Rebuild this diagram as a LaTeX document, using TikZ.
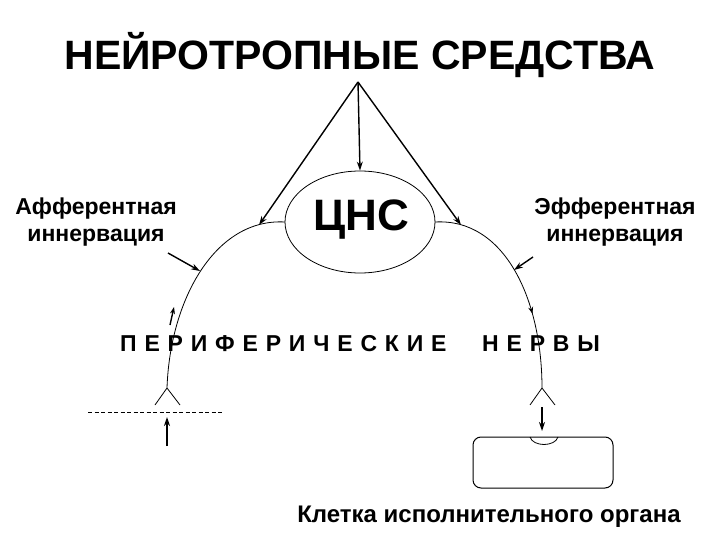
\documentclass[tikz,border=0pt]{standalone}
\usepackage{fontspec}
\setmainfont{Liberation Sans}
\usetikzlibrary{arrows.meta,shapes.geometric,decorations.markings}
\begin{document}
\begin{tikzpicture}[x=1pt,y=-1pt,
  txt/.style={inner sep=0pt},
  arr/.style={-{Stealth[length=9pt,width=6pt]}, line width=1.4pt},
  smallarr/.style={-{Stealth[length=7pt,width=5pt]}, line width=1.4pt},
  nerve/.style={line width=0.8pt},
  thinline/.style={line width=0.8pt},
  sidelabel/.style={txt, font=\fontsize{23}{26.5}\selectfont\bfseries, align=center, anchor=base},
  spaced/.style={txt, font=\fontsize{23}{26}\selectfont\bfseries\addfontfeatures{LetterSpace=34}, anchor=base west},
]
\useasboundingbox (0,0) rectangle (720,540);
% title
\node[txt, font=\fontsize{41}{48}\selectfont\bfseries, anchor=base] (title) at (360,70) {НЕЙРОТРОПНЫЕ СРЕДСТВА};
% CNS
\node[draw, ellipse, minimum width=150pt, minimum height=102pt, inner sep=0pt, thinline] (cns) at (360,222) {};
\node[txt, font=\fontsize{44}{50}\selectfont\bfseries, anchor=base] (cnstext) at (361,230) {ЦНС};
% side labels
\node[sidelabel] (aff) at (96,241) {Афферентная\\иннервация};
\node[sidelabel] (eff) at (615,241) {Эфферентная\\иннервация};
% peripheral nerves
\node[spaced] (per) at (120,351) {ПЕРИФЕРИЧЕСКИЕ};
\node[spaced] (nerv) at (482,351) {НЕРВЫ};
% cell label
\node[txt, font=\fontsize{24}{28}\selectfont\bfseries, anchor=base] (celltext) at (489,522) {Клетка исполнительного органа};
% coordinates
\coordinate (apex) at (358,82);
\coordinate (lcns) at (285,222);
\coordinate (rcns) at (435,222);
\coordinate (la) at (259,225);
\coordinate (ra) at (461,225);
\coordinate (lf) at (167,388);
\coordinate (rf) at (542,388);
\coordinate (lb1) at (155,405);
\coordinate (lb2) at (180,405);
\coordinate (rb1) at (530,405);
\coordinate (rb2) at (555,405);
\coordinate (affs) at (168,253);
\coordinate (affe) at (200,271);
\coordinate (effs) at (533,257);
\coordinate (effe) at (514,270);
\coordinate (ups) at (170,325);
\coordinate (upe) at (174,307);
\coordinate (stims) at (167,446);
\coordinate (stime) at (167,417);
\coordinate (dls) at (88,412);
\coordinate (dle) at (222,412);
\coordinate (outs) at (542,407);
\coordinate (oute) at (542,431);
\coordinate (ca1) at (530,437);
\coordinate (ca2) at (558,437);
% arrows from title
\draw[arr] (apex) -- (cns.north);
\draw[arr] (apex) -- (la);
\draw[arr] (apex) -- (ra);
% nerves
\draw[nerve] (lcns) .. controls (215,218) and (170,300) .. (lf);
\draw[nerve, decoration={markings, mark=at position 0.66 with {\arrow{Stealth[length=7pt,width=5pt]}}}, postaction={decorate}]
  (rcns) .. controls (505,218) and (542,300) .. (rf);
% forks
\draw[thinline] (lf) -- (lb1) (lf) -- (lb2);
\draw[thinline] (rf) -- (rb1) (rf) -- (rb2);
% small arrows
\draw[arr] (affs) -- (affe);
\draw[arr] (effs) -- (effe);
\draw[smallarr] (ups) -- (upe);
\draw[arr] (stims) -- (stime);
\draw[dashed, thinline, dash pattern=on 4pt off 2.5pt] (dls) -- (dle);
\draw[arr] (outs) -- (oute);
% cell
\node[draw, rounded corners=8pt, minimum width=140pt, minimum height=51pt, inner sep=0pt, line width=1pt] (cell) at (543,462.5) {};
\draw[thinline] (ca1) .. controls (533,447) and (555,447) .. (ca2);
\end{tikzpicture}
\end{document}
